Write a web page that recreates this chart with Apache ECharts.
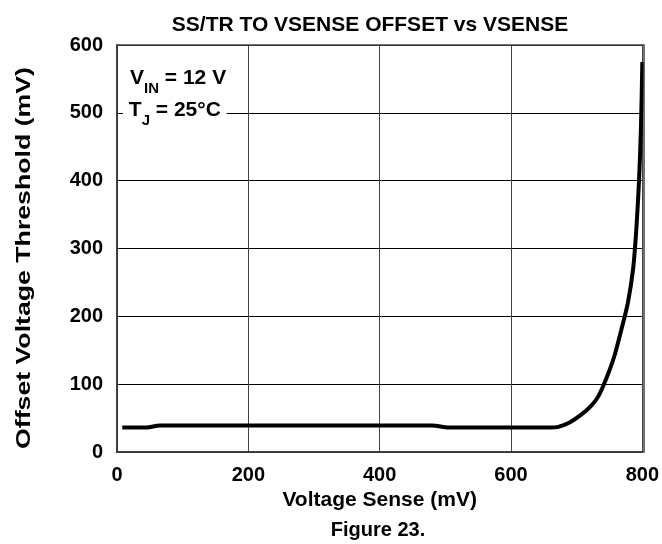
<!DOCTYPE html>
<html>
<head>
<meta charset="utf-8">
<script src="https://cdn.jsdelivr.net/npm/echarts@6/dist/echarts.min.js"></script>
<style>
  html, body { margin: 0; padding: 0; background: #fff; }
  #chart { width: 662px; height: 544px; }
</style>
</head>
<body>
<div id="chart"></div>
<script>
// 曲线数据
var vsense = [8, 45, 65, 480, 505, 660, 672, 690, 707, 722, 733, 745, 757, 768, 778, 786, 791, 795, 798, 800];
var offset = [36, 36, 39, 39, 36, 36, 37, 44, 55, 68, 82, 108, 140, 180, 220, 270, 330, 400, 480, 575];
var xTicks = [0, 200, 400, 600, 800];
var yTicks = [0, 100, 200, 300, 400, 500, 600];

var font = 'Liberation Sans, Arial, sans-serif';
var points = [];
for (var i = 0; i < vsense.length; i++) {
  points.push([vsense[i], offset[i]]);
}

var richStyle = {
  a: { fontFamily: font, fontWeight: 'bold', fontSize: 21, fill: '#000', lineHeight: 24 },
  b: { fontFamily: font, fontWeight: 'bold', fontSize: 15, fill: '#000', lineHeight: 18, padding: [22, 0, 0, 0] }
};

var myChart = echarts.init(document.getElementById('chart'));
var option = {
  animation: false,
  title: {
    text: 'SS/TR TO VSENSE OFFSET vs VSENSE',
    left: 365,
    top: 10,
    textAlign: 'center',
    textStyle: { fontFamily: font, fontWeight: 'bold', fontSize: 21, color: '#000' }
  },
  grid: { left: 117, right: 18, top: 45, bottom: 92 },
  xAxis: {
    type: 'value',
    min: xTicks[0],
    max: xTicks[xTicks.length - 1],
    interval: 200,
    name: 'Voltage Sense (mV)',
    nameLocation: 'middle',
    nameGap: 30,
    nameTextStyle: { fontFamily: font, fontWeight: 'bold', fontSize: 21, color: '#000' },
    axisLine: { show: true, lineStyle: { color: '#000', width: 1.5 } },
    axisTick: { show: false },
    axisLabel: { margin: 13, fontFamily: font, fontWeight: 'bold', fontSize: 20, color: '#000' },
    splitLine: { show: true, lineStyle: { color: '#444', width: 1 } }
  },
  yAxis: {
    type: 'value',
    min: yTicks[0],
    max: yTicks[yTicks.length - 1],
    interval: 100,
    axisLine: { show: true, lineStyle: { color: '#000', width: 1.5 } },
    axisTick: { show: false },
    axisLabel: { margin: 14, fontFamily: font, fontWeight: 'bold', fontSize: 20, color: '#000' },
    splitLine: { show: true, lineStyle: { color: '#000', width: 1 } }
  },
  graphic: [
    // 上边框和右边框
    { type: 'rect', shape: { x: 117, y: 45, width: 527, height: 407 }, style: { fill: 'none', stroke: '#444', lineWidth: 1.5 }, z: 10 },
    // y轴名称（拉长一点）
    {
      type: 'text', x: 24, y: 258, rotation: Math.PI / 2, scaleX: 1.27, z: 20,
      style: {
        text: 'Offset Voltage Threshold (mV)',
        fontFamily: font, fontWeight: 'bold', fontSize: 21, fill: '#000',
        align: 'center', verticalAlign: 'middle'
      }
    },
    {
      type: 'text', x: 130, y: 66, z: 20,
      style: { text: '{a|V}{b|IN}{a| = 12 V}', rich: richStyle }
    },
    {
      type: 'text', x: 123, y: 98, z: 20,
      style: { text: '{a| T}{b|J}{a| = 25°C }', backgroundColor: '#fff', rich: richStyle }
    },
    {
      type: 'text', x: 378, y: 530, z: 20,
      style: {
        text: 'Figure 23.', fontFamily: font, fontWeight: 'bold', fontSize: 20, fill: '#000',
        align: 'center', verticalAlign: 'middle'
      }
    }
  ],
  series: [{
    type: 'line',
    data: points,
    smooth: 0.25,
    showSymbol: false,
    lineStyle: { color: '#000', width: 4 }
  }]
};
myChart.setOption(option);
</script>
</body>
</html>
